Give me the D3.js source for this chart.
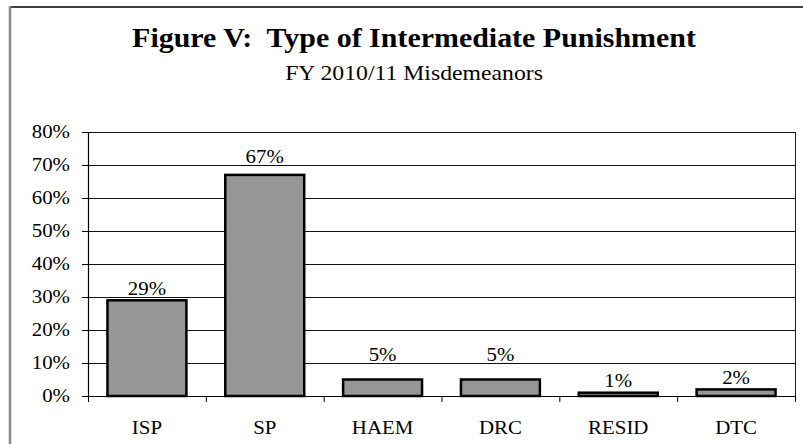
<!DOCTYPE html>
<html>
<head>
<meta charset="utf-8">
<script src="https://cdn.jsdelivr.net/npm/d3@7"></script>
<style>
  body { margin: 0; background: #fff; }
  svg { display: block; }
  text { font-family: 'Liberation Serif', 'Times New Roman', serif; fill: #000; }
</style>
</head>
<body>
<script>
  // data
  var categories = ['ISP', 'SP', 'HAEM', 'DRC', 'RESID', 'DTC'];
  var percents = [29, 67, 5, 5, 1, 2];
  var yTicks = [0, 10, 20, 30, 40, 50, 60, 70, 80];
  var title = 'Figure V:  Type of Intermediate Punishment';
  var subtitle = 'FY 2010/11 Misdemeanors';

  var width = 803;
  var height = 444;
  var stretch = 1.13; // the source picture is a bit wider than tall
  var serif = "'Liberation Serif', 'Times New Roman', serif";
  var margin = {top: 132, right: 8, bottom: 48, left: 88};
  var plotW = width - margin.left - margin.right;
  var plotH = height - margin.top - margin.bottom;

  var svg = d3.select('body').append('svg')
    .attr('width', width)
    .attr('height', height);

  // chart frame (only top and left edges fall inside the picture)
  svg.append('line')
    .attr('x1', 9).attr('x2', width)
    .attr('y1', 7).attr('y2', 7)
    .attr('stroke', '#000').attr('stroke-width', 1.5);
  svg.append('line')
    .attr('x1', 10).attr('x2', 10)
    .attr('y1', 6).attr('y2', height)
    .attr('stroke', '#888').attr('stroke-width', 2.5);

  // titles
  svg.append('text')
    .attr('transform', 'translate(414,47) scale(' + stretch + ',1)')
    .attr('text-anchor', 'middle')
    .style('font-family', serif)
    .style('font-size', '26.5px')
    .style('font-weight', 'bold')
    .style('white-space', 'pre')
    .text(title);
  svg.append('text')
    .attr('transform', 'translate(414,80) scale(' + stretch + ',1)')
    .attr('text-anchor', 'middle')
    .style('font-family', serif)
    .style('font-size', '21px')
    .text(subtitle);

  var g = svg.append('g')
    .attr('transform', 'translate(' + margin.left + ',' + margin.top + ')');

  // scales
  var xScale = d3.scaleBand()
    .domain(categories)
    .range([0, plotW])
    .paddingInner(0.33)
    .paddingOuter(0.165);
  var yScale = d3.scaleLinear()
    .domain([0, 80])
    .range([plotH, 0]);
  var edgeScale = d3.scaleLinear()
    .domain([0, categories.length])
    .range([0, plotW]);

  // gridlines
  g.append('g')
    .selectAll('line')
    .data(yTicks)
    .enter().append('line')
    .attr('x1', 0).attr('x2', plotW)
    .attr('y1', d => yScale(d) + 0.5)
    .attr('y2', d => yScale(d) + 0.5)
    .attr('stroke', '#111')
    .attr('stroke-width', 1);

  // right edge of plot area
  g.append('line')
    .attr('x1', plotW + 0.5).attr('x2', plotW + 0.5)
    .attr('y1', 0).attr('y2', plotH)
    .attr('stroke', '#222');

  // bars
  g.append('g')
    .selectAll('rect')
    .data(percents)
    .enter().append('rect')
    .attr('x', (d, i) => xScale(categories[i]))
    .attr('y', d => yScale(d))
    .attr('width', xScale.bandwidth())
    .attr('height', d => plotH - yScale(d))
    .attr('fill', '#969696')
    .attr('stroke', '#000')
    .attr('stroke-width', 2.5);

  // value labels: sit just above the bar, but stay clear of a gridline
  var fontPx = 18.5;
  var capH = fontPx * 0.68;
  function labelBaseline(v) {
    var b = yScale(v) - 5.5;
    yTicks.forEach(function(t) {
      var gy = yScale(t);
      if (gy > b - capH && gy < b + 1) b = gy - 2;
    });
    return b;
  }
  g.append('g')
    .selectAll('text')
    .data(percents)
    .enter().append('text')
    .attr('transform', (d, i) => 'translate(' + (xScale(categories[i]) + xScale.bandwidth() / 2) + ',' + labelBaseline(d) + ') scale(' + stretch + ',1)')
    .attr('text-anchor', 'middle')
    .style('font-family', serif)
    .style('font-size', fontPx + 'px')
    .text(d => d + '%');

  // y axis
  var yAxis = g.append('g')
    .call(d3.axisLeft(yScale)
      .tickValues(yTicks)
      .tickSize(6)
      .tickSizeOuter(0)
      .tickFormat(d => d + '%'));
  yAxis.select('.domain').attr('stroke', '#000').attr('stroke-width', 1.2);
  yAxis.selectAll('line').attr('stroke', '#000');
  yAxis.selectAll('text')
    .attr('x', -18 / stretch)
    .attr('transform', 'scale(' + stretch + ',1)')
    .style('font-size', fontPx + 'px')
    .style('font-family', serif);

  // x axis: ticks on the category edges, labels under the bars
  var xEdge = g.append('g')
    .attr('transform', 'translate(0,' + plotH + ')')
    .call(d3.axisBottom(edgeScale)
      .ticks(categories.length)
      .tickSize(6)
      .tickSizeOuter(0)
      .tickFormat(''));
  xEdge.select('.domain').attr('stroke', '#000').attr('stroke-width', 1.2);
  xEdge.selectAll('line').attr('stroke', '#000');

  var xLabels = g.append('g')
    .attr('transform', 'translate(0,' + plotH + ')')
    .call(d3.axisBottom(xScale).tickSize(0));
  xLabels.select('.domain').remove();
  xLabels.selectAll('text')
    .attr('y', 38)
    .attr('dy', 0)
    .attr('transform', 'scale(' + stretch + ',1)')
    .attr('x', 0)
    .style('font-size', fontPx + 'px')
    .style('font-family', serif);
  xLabels.selectAll('.tick')
    .attr('transform', d => 'translate(' + (xScale(d) + xScale.bandwidth() / 2) + ',0)');
</script>
</body>
</html>
